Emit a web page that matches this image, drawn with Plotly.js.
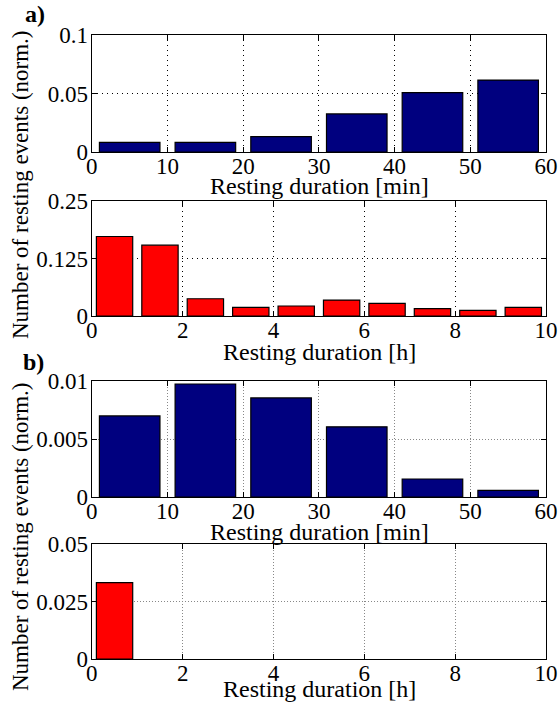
<!DOCTYPE html>
<html><head><meta charset="utf-8">
<script src="https://cdn.plot.ly/plotly-3.0.1.min.js"></script>
<style>body{margin:0;padding:0;background:#fff}#chart{width:560px;height:702px}</style>
</head><body><div id="chart"></div>
<script>
// bin centres
const minCentres = [5, 15, 25, 35, 45, 55];
const hourCentres = [0.5, 1.5, 2.5, 3.5, 4.5, 5.5, 6.5, 7.5, 8.5, 9.5];
// panel a
const aMinutes = [0.0083, 0.0083, 0.0131, 0.0325, 0.0507, 0.0615];
const aHours = [0.1728, 0.154, 0.0375, 0.0188, 0.0217, 0.0347, 0.0275, 0.0159, 0.0123, 0.0188];
// panel b (empty bins left as null: no bar drawn)
const bMinutes = [0.00699, 0.00974, 0.00854, 0.00605, 0.00155, 0.00057];
const bHours = [0.0332, null, null, null, null, null, null, null, null, null];
// tick labels
const minTicks = [0, 10, 20, 30, 40, 50, 60];
const hourTicks = [0, 2, 4, 6, 8, 10];
const aMinY = [0, 0.05, 0.1], aMinYText = ['0', '0.05', '0.1'];
const aHourY = [0, 0.125, 0.25], aHourYText = ['0', '0.125', '0.25'];
const bMinY = [0, 0.005, 0.01], bMinYText = ['0', '0.005', '0.01'];
const bHourY = [0, 0.025, 0.05], bHourYText = ['0', '0.025', '0.05'];
const xTitleMin = 'Resting duration [min]';
const xTitleHour = 'Resting duration [h]';
const yTitle = 'Number of resting events (norm.)';

const BLUE = '#00007f', RED = '#ff0000';
const FAM = 'Liberation Serif';
const FONT = {family: FAM, size: 23, color: '#000'};
const TFONT = {family: FAM, size: 24, color: '#000'};
const YFONT = {family: FAM, size: 23, color: '#000'};

function bar(x, y, color, xa, ya, w) {
  return {type: 'bar', x: x, y: y, xaxis: xa, yaxis: ya, width: w,
    marker: {color: color, line: {color: '#000', width: 1.2}}, hoverinfo: 'none'};
}
const data = [
  bar(minCentres, aMinutes, BLUE, 'x', 'y', 8),
  bar(hourCentres, aHours, RED, 'x2', 'y2', 0.8),
  bar(minCentres, bMinutes, BLUE, 'x3', 'y3', 8),
  bar(hourCentres, bHours, RED, 'x4', 'y4', 0.8)
];

const xd = [0.164, 0.975];
function xax(anchor, ticks, range, gridc, gdash) {
  return {anchor: anchor, domain: xd, range: range, tickvals: ticks, ticktext: ticks.map(String),
    showline: true, linecolor: '#000', linewidth: 1.2, mirror: 'ticks', ticks: 'inside', ticklen: 5,
    tickcolor: '#000', showgrid: true, gridcolor: gridc, griddash: gdash, gridwidth: 1,
    zeroline: false, tickfont: FONT, automargin: false, ticklabelstandoff: -7};
}
function yax(anchor, dom, vals, text, gridc, gdash) {
  return {anchor: anchor, domain: dom, range: [0, vals[2]], tickvals: vals, ticktext: text,
    showline: true, linecolor: '#000', linewidth: 1.2, mirror: 'ticks', ticks: 'inside', ticklen: 5,
    tickcolor: '#000', showgrid: true, gridcolor: gridc, griddash: gdash, gridwidth: 1,
    zeroline: false, tickfont: FONT, automargin: false, ticklabelstandoff: -2};
}
const H = 702, W = 560;
function dom(top, bot) { return [1 - bot / H, 1 - top / H]; }
function ann(text, xpx, ypx, font, extra) {
  return Object.assign({text: text, xref: 'paper', yref: 'paper', x: xpx / W, y: 1 - ypx / H,
    xanchor: 'center', yanchor: 'middle', showarrow: false, font: font}, extra || {});
}
const xmid = (92 + 546) / 2;
const DA = '1px,4px', DB = '1px,2px';

const layout = {
  width: W, height: H, margin: {l: 0, r: 0, t: 0, b: 0},
  paper_bgcolor: '#fff', plot_bgcolor: '#fff', showlegend: false, font: FONT,
  xaxis: xax('y', minTicks, [0, 60], '#000', DA),
  yaxis: yax('x', dom(35, 152), aMinY, aMinYText, '#000', DA),
  xaxis2: xax('y2', hourTicks, [0, 10], '#000', DA),
  yaxis2: yax('x2', dom(201, 316), aHourY, aHourYText, '#000', DA),
  xaxis3: xax('y3', minTicks, [0, 60], '#888', DB),
  yaxis3: yax('x3', dom(381, 497), bMinY, bMinYText, '#888', DB),
  xaxis4: xax('y4', hourTicks, [0, 10], '#888', DB),
  yaxis4: yax('x4', dom(544, 659), bHourY, bHourYText, '#888', DB),
  annotations: [
    ann('<b>a)</b>', 35, 14, TFONT),
    ann('<b>b)</b>', 33, 362, TFONT),
    ann(yTitle, 20, 185, YFONT, {textangle: -90}),
    ann(yTitle, 20, 537, YFONT, {textangle: -90}),
    ann(xTitleMin, xmid, 186, TFONT),
    ann(xTitleHour, xmid, 352, TFONT),
    ann(xTitleMin, xmid, 532, TFONT),
    ann(xTitleHour, xmid, 689, TFONT)
  ]
};
Plotly.newPlot('chart', data, layout, {staticPlot: true, displayModeBar: false});
</script></body></html>
